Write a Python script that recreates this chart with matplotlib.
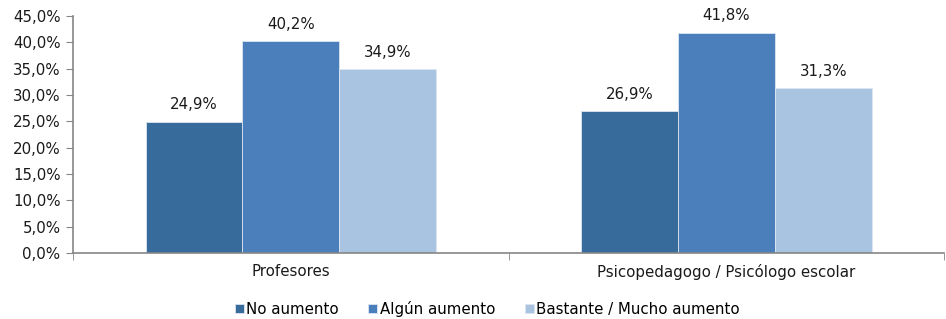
import matplotlib
matplotlib.use("Agg")
import matplotlib.pyplot as plt
import numpy as np
from matplotlib.ticker import FuncFormatter, FixedLocator

categories = ["Profesores", "Psicopedagogo / Psicólogo escolar"]
series_names = ["No aumento", "Algún aumento", "Bastante / Mucho aumento"]
no_aumento = [24.9, 26.9]
algun_aumento = [40.2, 41.8]
bastante_mucho = [34.9, 31.3]
colors = ["#376B9B", "#4B7FBC", "#A9C4E0"]

plt.rcParams['font.family'] = ['DejaVu Sans']
FS = 10.8
fig = plt.figure(figsize=(9.46, 3.19), dpi=100)
ax = fig.add_axes([0.0772, 0.207, 0.921, 0.743])

x = np.arange(len(categories))
w = 0.222
all_series = [no_aumento, algun_aumento, bastante_mucho]
for i, (vals, name, c) in enumerate(zip(all_series, series_names, colors)):
    bars = ax.bar(x + (i - 1) * w, vals, w, color=c, label=name,
                  edgecolor="#DCE6F2", linewidth=0.6)
    for b, v in zip(bars, vals):
        ax.text(b.get_x() + b.get_width() / 2, v + 1.8, f"{v:.1f}%".replace(".", ","),
                ha="center", va="bottom", fontsize=FS, color="#1a1a1a")

ax.set_xlim(-0.5, 1.5)
ax.set_ylim(0, 45)
ax.set_yticks(np.arange(0, 46, 5))
ax.yaxis.set_major_formatter(FuncFormatter(lambda v, p: f"{v:.1f}%".replace(".", ",")))
ax.set_xticks(x)
ax.set_xticklabels(categories)
ax.xaxis.set_minor_locator(FixedLocator([-0.5, 0.5, 1.5]))
ax.tick_params(axis="x", which="major", length=0, pad=8, labelsize=FS, labelcolor="#1a1a1a")
ax.tick_params(axis="x", which="minor", length=5, color="#868686", direction="out")
ax.tick_params(axis="y", length=5, color="#868686", labelsize=FS, labelcolor="#1a1a1a", pad=4)
for s in ["top", "right"]:
    ax.spines[s].set_visible(False)
for s in ["left", "bottom"]:
    ax.spines[s].set_color("#868686")
    ax.spines[s].set_linewidth(1.2)

fig.legend(loc="center", bbox_to_anchor=(0.515, 0.032), ncol=3, frameon=False,
           fontsize=FS, handlelength=0.6, handleheight=0.6, handletextpad=0.15,
           columnspacing=2.0)

fig.savefig("out.png", dpi=100)
